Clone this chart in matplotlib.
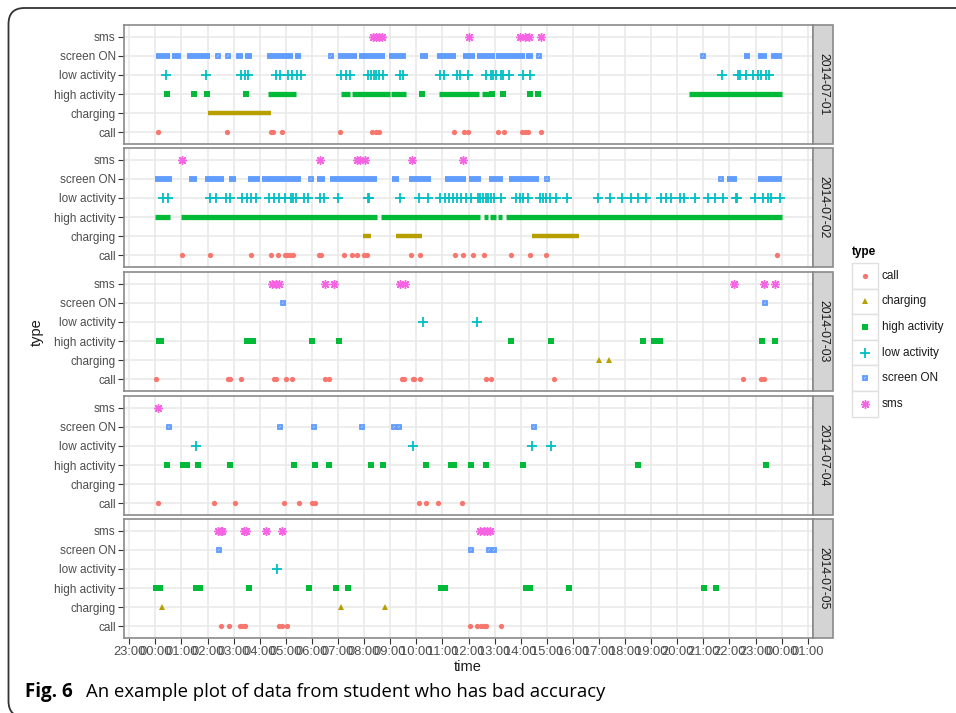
import matplotlib.pyplot as plt
from matplotlib.patches import FancyBboxPatch, Rectangle
from matplotlib.lines import Line2D

W, H = 956, 713

days = ['2014-07-01', '2014-07-02', '2014-07-03', '2014-07-04', '2014-07-05']
types = ['call', 'charging', 'high activity', 'low activity', 'screen ON', 'sms']
colors = ['#F8766D', '#B79F00', '#00BA38', '#00BFC4', '#619CFF', '#F564E3']

# single events, hour of day, one list per day
call_t = [
    [0.10, 2.76, 4.44, 4.52, 4.87, 7.06, 8.31, 8.44, 8.58, 11.44, 11.83, 11.98,
     13.13, 13.36, 14.05, 14.15, 14.28, 14.76],
    [1.02, 2.08, 3.68, 4.44, 4.70, 4.96, 5.04, 5.15, 5.27, 6.27, 6.36, 7.23, 7.55,
     7.73, 8.0, 8.11, 9.81, 10.15, 11.47, 11.78, 12.19, 12.58, 13.61, 14.34, 14.98, 23.83],
    [0.03, 2.77, 2.85, 3.28, 4.53, 4.62, 5.01, 5.25, 6.50, 6.67, 9.44, 9.52, 9.86,
     9.91, 10.14, 12.68, 12.85, 15.26, 22.50, 23.21, 23.33],
    [0.10, 2.24, 3.06, 4.94, 5.50, 6.02, 6.10, 10.12, 10.36, 10.85, 11.74],
    [2.50, 2.82, 3.26, 3.36, 3.45, 4.73, 4.85, 5.04, 12.04, 12.32, 12.49, 12.59, 12.68, 13.26],
]
charging_t = [
    [],
    [],
    [17.01, 17.37],
    [],
    [0.27, 7.13, 8.79],
]
high_t = [
    [0.46, 1.49, 1.99, 3.49, 10.22, 12.91, 13.32, 14.34, 14.68],
    [],
    [0.13, 0.21, 3.50, 3.76, 6.02, 7.04, 13.61, 15.16, 18.68, 19.09, 19.32, 23.26, 23.76],
    [0.46, 1.06, 1.14, 1.23, 1.64, 2.85, 5.33, 6.10, 6.67, 8.26, 8.72, 10.36, 11.32,
     11.45, 12.10, 12.67, 14.07, 18.48, 23.40],
    [0.04, 0.19, 1.57, 1.70, 3.58, 5.87, 6.94, 7.38, 10.96, 11.09, 14.20, 14.34,
     15.85, 21.04, 21.47],
]
low_t = [
    [0.42, 1.93, 3.30, 3.42, 3.55, 4.64, 4.76, 5.08, 5.25, 5.43, 5.59, 7.13, 7.29,
     7.47, 8.15, 8.28, 8.37, 8.47, 8.57, 8.72, 9.36, 9.49, 10.92, 11.05, 11.56,
     11.66, 11.98, 12.68, 12.88, 12.94, 13.07, 13.26, 13.32, 13.54, 14.09, 14.34,
     21.71, 22.32, 22.39, 22.64, 22.90, 23.09, 23.19, 23.41, 23.51],
    [0.29, 0.49, 2.11, 2.34, 2.69, 2.85, 3.33, 3.51, 3.68, 3.87, 4.34, 4.53, 4.74,
     4.96, 5.21, 5.27, 5.40, 5.68, 5.85, 6.30, 6.45, 7.0, 8.15, 8.19, 9.36, 10.10,
     10.45, 10.89, 11.09, 11.25, 11.40, 11.57, 11.72, 11.89, 12.11, 12.36, 12.45,
     12.55, 12.66, 12.75, 12.87, 12.97, 13.26, 13.81, 13.96, 14.09, 14.28, 14.73,
     14.85, 14.98, 15.11, 15.36, 15.77, 16.96, 17.43, 17.88, 18.24, 18.49, 18.81,
     19.39, 19.58, 19.77, 20.12, 20.24, 20.66, 21.17, 21.43, 21.75, 22.26, 22.30,
     22.96, 23.28, 23.47, 23.60, 23.95],
    [10.26, 12.31],
    [1.54, 9.86, 14.44, 15.16],
    [4.67],
]
screen_t = [
    [2.40, 2.79, 6.72, 14.72, 20.98],
    [5.96, 15.02, 21.67],
    [4.89, 23.35],
    [0.51, 4.79, 6.09, 7.93, 9.15, 9.32, 14.50],
    [2.44, 12.08, 12.78, 12.98],
]
sms_t = [
    [8.34, 8.47, 8.57, 8.70, 12.0, 13.99, 14.15, 14.31, 14.79],
    [1.02, 6.30, 7.73, 7.85, 8.02, 9.83, 11.79],
    [4.48, 4.62, 4.75, 6.50, 6.84, 9.37, 9.57, 22.17, 23.33, 23.73],
    [0.12],
    [2.42, 2.50, 2.57, 3.38, 3.46, 4.25, 4.85, 12.43, 12.59, 12.72, 12.84],
]

# stretches where events are so dense they merge into a bar: (start, end)
charging_runs = [
    [(2.02, 4.44)],
    [(7.96, 8.28), (9.21, 10.23), (14.44, 16.22)],
    [], [], [],
]
high_runs = [
    [(4.32, 5.38), (7.10, 7.47), (7.54, 8.98), (9.04, 9.59), (10.86, 12.40),
     (12.51, 12.77), (20.45, 24.0)],
    [(0.0, 0.57), (1.0, 8.51), (8.66, 12.43), (12.58, 12.75), (12.81, 13.07),
     (13.13, 13.28), (13.42, 24.0)],
    [], [], [],
]
screen_runs = [
    [(0.04, 0.55), (0.64, 0.97), (1.23, 2.11), (3.10, 3.36), (3.45, 3.70),
     (4.28, 5.27), (5.36, 5.59), (7.0, 7.73), (7.80, 8.81), (8.95, 9.59),
     (10.13, 10.45), (10.80, 11.53), (11.79, 12.26), (12.34, 13.0), (13.06, 14.15),
     (14.21, 14.47), (22.55, 22.77), (23.09, 23.44), (23.60, 24.0)],
    [(0.0, 0.65), (1.28, 1.60), (1.89, 2.63), (2.82, 3.10), (3.55, 4.0), (4.10, 5.59),
     (6.21, 6.51), (6.68, 8.51), (9.08, 9.32), (9.72, 10.57), (11.09, 11.92),
     (12.0, 12.47), (12.78, 13.32), (13.54, 14.69), (21.91, 22.28), (23.09, 24.0)],
    [], [], [],
]

hour_ticks = list(range(-1, 26))
hour_labels = ['23:00', '00:00', '01:00', '02:00', '03:00', '04:00', '05:00', '06:00',
               '07:00', '08:00', '09:00', '10:00', '11:00', '12:00', '13:00', '14:00',
               '15:00', '16:00', '17:00', '18:00', '19:00', '20:00', '21:00', '22:00',
               '23:00', '00:00', '01:00']

points = [call_t, charging_t, high_t, low_t, screen_t, sms_t]
runs = {1: (charging_runs, 3.2), 2: (high_runs, 3.8), 4: (screen_runs, 4.2)}

# marker style per type (ggplot shapes 16, 17, 15, 3, 7, 8)
styles = [
    dict(marker='o', ms=3.8, mew=0),
    dict(marker='^', ms=4.0, mew=0),
    dict(marker='s', ms=4.0, mew=0),
    dict(marker='+', ms=6.5, mew=1.3),
    dict(marker='s', ms=3.2, mew=1.3, mfc='none'),
    dict(marker=(8, 2, 0), ms=6.3, mew=1.0),
]

plt.rcParams['font.family'] = ['Liberation Sans', 'DejaVu Sans']

fig = plt.figure(figsize=(W / 100, H / 100), dpi=100)


def fx(x):
    return x / W


def fy(y):
    return 1 - y / H


def marker_lines(x, y, i, **kw):
    st = styles[i]
    out = [Line2D(x, y, linestyle='none', color=colors[i], mec=colors[i], **st, **kw)]
    if i == 4:
        out.append(Line2D(x, y, linestyle='none', color=colors[i], marker='x',
                          ms=2.6, mew=0.7, **kw))
    return out


# outer rounded frame
frame = FancyBboxPatch((0.085, -0.04), 9.9, 7.09, boxstyle='round,pad=0,rounding_size=0.16',
                       transform=fig.dpi_scale_trans, fc='none', ec='#333333', lw=1.3)
fig.add_artist(frame)

tops = [25, 148, 272, 396, 519]
ph = 119
left, right = 124, 813

for d, top in enumerate(tops):
    ax = fig.add_axes([fx(left), fy(top + ph), fx(right - left), ph / H])
    ax.set_xlim(-1.2, 25.2)
    ax.set_ylim(0.4, 6.6)
    ax.set_xticks(hour_ticks)
    ax.set_yticks(range(1, 7))
    ax.set_yticklabels(types)
    ax.grid(True, color='#E8E8E8', lw=1.1)
    ax.set_axisbelow(True)
    for s in ax.spines.values():
        s.set_color('#8A8A8A')
        s.set_linewidth(1.2)
    ax.tick_params(axis='y', length=4, width=0.8, color='#333333', labelsize=8.5,
                   labelcolor='#4D4D4D', pad=2)
    if d == len(tops) - 1:
        ax.set_xticklabels(hour_labels)
        ax.tick_params(axis='x', length=4, width=0.8, color='#333333', labelsize=9.3,
                       labelcolor='#4D4D4D', pad=2)
    else:
        ax.tick_params(axis='x', bottom=False, labelbottom=False)

    for i in range(6):
        if i in runs:
            rr, lw = runs[i]
            for a, b in rr[d]:
                ax.hlines(i + 1, a, b, color=colors[i], lw=lw, capstyle='butt')
        ts = points[i][d]
        if ts:
            for ln in marker_lines(ts, [i + 1] * len(ts), i):
                ax.add_line(ln)

    # facet strip on the right
    fig.add_artist(Rectangle((fx(right), fy(top + ph)), fx(833 - right), ph / H,
                             transform=fig.transFigure, fc='#D4D4D4', ec='#8A8A8A', lw=1.2))
    fig.text(fx(823), fy(top + ph / 2), days[d], rotation=270, ha='center', va='center',
             fontsize=8.8, color='#1A1A1A')

fig.text(fx(468), fy(667), 'time', ha='center', va='center', fontsize=10.5, color='#1A1A1A')
fig.text(fx(37), fy(332), 'type', ha='center', va='center', rotation=90, fontsize=10.5,
         color='#1A1A1A')

# legend
fig.text(fx(852), fy(252), 'type', ha='left', va='center', fontsize=8.5, fontweight='bold')
key_h = 25.6
for i, name in enumerate(types):
    ky = 263 + key_h * i
    fig.add_artist(Rectangle((fx(852), fy(ky + key_h)), fx(26), key_h / H,
                             transform=fig.transFigure, fc='white', ec='#E0E0E0', lw=1))
    for ln in marker_lines([fx(865)], [fy(ky + key_h / 2)], i, transform=fig.transFigure):
        fig.add_artist(ln)
    fig.text(fx(882), fy(ky + key_h / 2), name, ha='left', va='center', fontsize=8.5,
             color='#1A1A1A')

# caption
fig.text(fx(25), fy(692), 'Fig. 6', ha='left', va='center', fontsize=13.5,
         fontweight='bold', family='Open Sans')
fig.text(fx(86), fy(692), 'An example plot of data from student who has bad accuracy',
         ha='left', va='center', fontsize=13.3, family='Open Sans')

fig.savefig('out.png', dpi=100)
